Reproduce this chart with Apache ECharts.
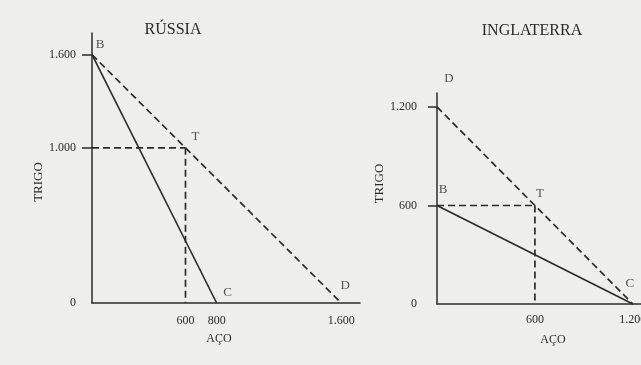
<!DOCTYPE html>
<html>
<head>
<meta charset="utf-8">
<script src="https://cdn.jsdelivr.net/npm/echarts@6/dist/echarts.min.js"></script>
<style>
  html, body { margin: 0; padding: 0; background: #eeeeec; }
  #chart { width: 641px; height: 365px; }
</style>
</head>
<body>
<div id="chart"></div>
<script>
// Rússia
const rusTitle = "RÚSSIA";
const rusFront = [[0, 1600], [800, 0]];               // B -> C
const rusTrade = [[0, 1600], [600, 1000], [1600, 0]]; // B -> T -> D
const rusT = [600, 1000];
const rusNames = ["B", "T", "C", "D"];
const rusPoints = [[0, 1600], [600, 1000], [800, 0], [1600, 0]];
const rusXTicks = [600, 800, 1600];
const rusYTicks = [0, 1000, 1600];

// Inglaterra
const engTitle = "INGLATERRA";
const engFront = [[0, 600], [1200, 0]];               // B -> C
const engTrade = [[0, 1200], [600, 600], [1200, 0]];  // D -> T -> C
const engT = [600, 600];
const engNames = ["D", "B", "T", "C"];
const engPoints = [[0, 1200], [0, 600], [600, 600], [1200, 0]];
const engXTicks = [600, 1200];
const engYTicks = [0, 600, 1200];

const INK = "#2b2b2b";
const FONT = "Liberation Serif";

const fmt = (v) => String(v).replace(/\B(?=(\d{3})+(?!\d))/g, ".");

// label offsets per point letter
const rusOffsets = [[8, -10], [10, -11], [11, -10], [4, -17]];
const engOffsets = [[12, -28], [6, -16], [5, -12], [-3, -20]];

function xAxisFor(idx, max, ticks, margin, namePad) {
  return {
    type: "value", gridIndex: idx, min: 0, max: max,
    splitLine: { show: false },
    axisLine: { show: true, onZero: false, lineStyle: { color: INK, width: 1.5 } },
    axisTick: { show: false },
    axisLabel: {
      customValues: ticks, formatter: fmt, margin: margin,
      color: INK, fontFamily: FONT, fontSize: 12
    },
    name: "AÇO", nameLocation: "middle", nameGap: 30,
    nameTextStyle: { color: INK, fontFamily: FONT, fontSize: 12, padding: namePad }
  };
}

function yAxisFor(idx, max, ticks, margin, tickLen, namePad) {
  return {
    type: "value", gridIndex: idx, min: 0, max: max,
    splitLine: { show: false },
    axisLine: { show: true, onZero: false, lineStyle: { color: INK, width: 1.5 } },
    axisTick: {
      show: true, customValues: ticks.filter((v) => v > 0), length: tickLen,
      lineStyle: { color: INK, width: 1.5 }
    },
    axisLabel: {
      customValues: ticks, formatter: fmt, margin: margin,
      color: INK, fontFamily: FONT, fontSize: 12
    },
    name: "TRIGO", nameLocation: "middle", nameGap: 40, nameRotate: 90,
    nameTextStyle: { color: INK, fontFamily: FONT, fontSize: 13, padding: namePad }
  };
}

function solid(idx, data) {
  return {
    type: "line", xAxisIndex: idx, yAxisIndex: idx, data: data,
    symbol: "none", clip: false, silent: true,
    lineStyle: { color: INK, width: 1.6 }
  };
}

function dashed(idx, data) {
  return {
    type: "line", xAxisIndex: idx, yAxisIndex: idx, data: data,
    symbol: "none", clip: false, silent: true,
    lineStyle: { color: INK, width: 1.7, type: [7, 4] }
  };
}

function letters(idx, names, pts, offsets) {
  return {
    type: "scatter", xAxisIndex: idx, yAxisIndex: idx, symbolSize: 0, silent: true,
    data: names.map((n, i) => ({
      name: n, value: pts[i],
      label: { show: true, formatter: n, position: "inside", offset: offsets[i],
               color: INK, fontFamily: FONT, fontSize: 13 }
    }))
  };
}

const chart = echarts.init(document.getElementById("chart"), null, { renderer: "canvas" });

chart.setOption({
  backgroundColor: "#eeeeec",
  animation: false,
  title: [
    { text: rusTitle, left: 168, top: 17, textAlign: "center",
      textStyle: { color: INK, fontFamily: FONT, fontSize: 16, fontWeight: "normal" } },
    { text: engTitle, left: 527, top: 18, textAlign: "center",
      textStyle: { color: INK, fontFamily: FONT, fontSize: 16, fontWeight: "normal" } }
  ],
  grid: [
    { left: 92, top: 33, width: 268, height: 270, outerBoundsMode: "none" },
    { left: 437, top: 93, width: 204, height: 211, outerBoundsMode: "none" }
  ],
  xAxis: [
    xAxisFor(0, 1720, rusXTicks, 12, [0, 14, 0, 0]),
    xAxisFor(1, 1250, engXTicks, 10, [0, 0, 0, 28])
  ],
  yAxis: [
    yAxisFor(0, 1740, rusYTicks, 16, 10, [0, 28, 0, 0]),
    yAxisFor(1, 1285, engYTicks, 20, 9, [0, 0, 0, 30])
  ],
  series: [
    solid(0, rusFront),
    dashed(0, rusTrade),
    dashed(0, [[0, rusT[1]], rusT]),
    dashed(0, [rusT, [rusT[0], 0]]),
    letters(0, rusNames, rusPoints, rusOffsets),
    solid(1, engFront),
    dashed(1, engTrade),
    dashed(1, [[0, engT[1]], engT]),
    dashed(1, [engT, [engT[0], 0]]),
    letters(1, engNames, engPoints, engOffsets)
  ]
});
</script>
</body>
</html>
